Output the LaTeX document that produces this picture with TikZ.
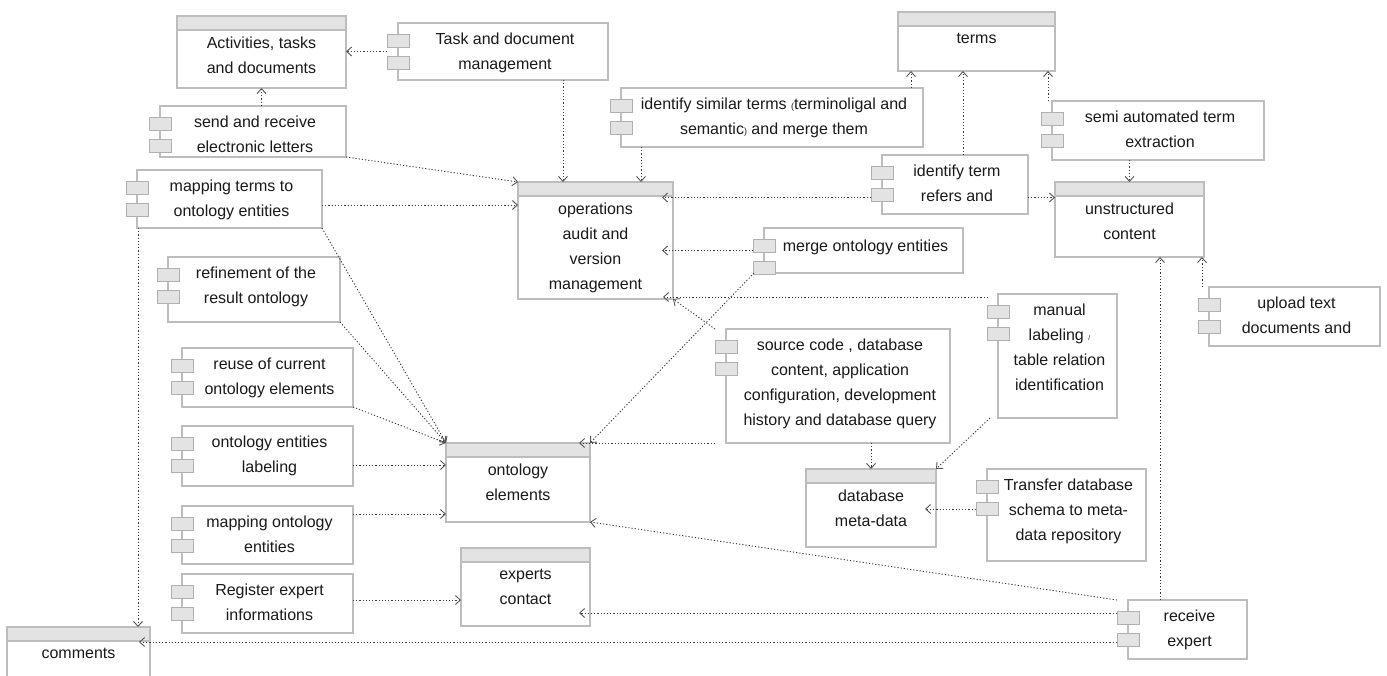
\documentclass[tikz,border=0pt]{standalone}
\usepackage{fontspec}
\setmainfont{Liberation Sans}
\usetikzlibrary{arrows.meta,calc}
\definecolor{bord}{HTML}{BDBDBD}
\definecolor{hdr}{HTML}{E3E3E3}
\definecolor{tabb}{HTML}{B0B0B0}
\definecolor{lnc}{HTML}{3A3A3A}
\definecolor{arrc}{HTML}{555555}
\definecolor{txtc}{HTML}{1A1A1A}
\tikzset{
 box/.style={draw=bord, line width=1.2pt, fill=white, inner sep=0, outer sep=0, anchor=north west},
 tabbox/.style={draw=tabb, line width=1pt, fill=hdr, inner sep=0, outer sep=0, minimum width=22pt, minimum height=13.5pt},
 hdrbox/.style={draw=bord, line width=1.2pt, fill=hdr, inner sep=0, outer sep=0, anchor=north west, minimum height=14pt},
 txt/.style={anchor=north, align=center, inner sep=0, text=txtc, font=\fontsize{16}{25}\selectfont, execute at begin node=\strut},
 dep/.style={draw=lnc, line width=0.9pt, dash pattern=on 1.2pt off 2pt, -{Straight Barb[length=5pt,width=9pt,line width=0.9pt,color=arrc]}},
}
% #7 = vertical shift of the text
\newcommand\classbox[7][-20.5pt]{%
  \node[box, minimum width={#5-#3}, minimum height={#6-#4}] (#2) at (#3,#4) {};
  \node[hdrbox, minimum width={#5-#3}] (#2h) at (#3,#4) {};
  \node[txt] (#2x) at ([yshift=#1]#2.north) {#7};
}
\newcommand\compbox[7][-10pt]{%
  \node[box, minimum width={#5-#3}, minimum height={#6-#4}] (#2) at (#3,#4) {};
  \node[tabbox] (#2a) at ([yshift=-17.75pt]#2.north west) {};
  \node[tabbox] (#2b) at ([yshift=-39.75pt]#2.north west) {};
  \node[txt] (#2x) at ([xshift=2pt,yshift=#1]#2.north) {#7};
}
\begin{document}
\begin{tikzpicture}[x=1pt,y=-1pt]
\useasboundingbox (0,0) rectangle (1387,675);
\fill[white] (0,0) rectangle (1387,675);
% class boxes
\classbox{act}{177}{16}{346}{88}{Activities, tasks\\and documents}
\classbox[-14pt]{terms}{898}{12}{1055}{71}{terms}
\classbox{ops}{518}{182}{673}{299}{operations\\audit and\\version\\management}
\classbox{unst}{1055}{182}{1204}{257}{unstructured\\content}
\classbox{onto}{446}{443}{590}{522}{ontology\\elements}
\classbox{exp}{461}{548}{590}{626}{experts\\contact}
\classbox{db}{806}{469}{936}{547}{database\\meta-data}
\classbox[-14pt]{comm}{7}{627}{150}{690}{comments}
% component boxes
\compbox{task}{398}{23}{608}{80}{Task and document\\management}
\compbox{send}{160}{106}{346}{157}{send and receive\\electronic letters}
\compbox{mapt}{137}{170}{322}{228}{mapping terms to\\ontology entities}
\compbox{sim}{621}{88}{923}{147}{identify similar terms {\small(}terminoligal and\\semantic{\small)} and merge them}
\compbox{idt}{882}{155}{1028}{214}{identify term\\refers and}
\compbox{semi}{1052}{101}{1264}{160}{semi automated term\\extraction}
\compbox{upl}{1209}{287}{1380}{346}{upload text\\documents and}
\compbox[-5.5pt]{merge}{764}{228}{963}{273}{merge ontology entities}
\compbox{refi}{168}{257}{340}{322}{refinement of the\\result ontology}
\compbox{reuse}{182}{348}{353}{407}{reuse of current\\ontology elements}
\compbox{lab}{182}{426}{353}{486}{ontology entities\\labeling}
\compbox{mapo}{182}{506}{353}{564}{mapping ontology\\entities}
\compbox{reg}{182}{574}{353}{633}{Register expert\\informations}
\compbox{src}{726}{329}{950}{443}{source code , database\\content, application\\configuration, development\\history and database query}
\compbox{man}{998}{294}{1117}{418}{manual\\labeling {\scriptsize /}\\table relation\\identification}
\compbox{trans}{987}{469}{1146}{561}{Transfer database\\schema to meta-\\data repository}
\compbox{recv}{1128}{600}{1247}{659}{receive\\expert}
% connectors
\draw[dep] ([xshift=-11pt]task.west) -- (task.west -| act.east);
\draw[dep] (act.south |- send.north) -- (act.south);
\draw[dep] (send.south east) -- (ops.north west);
\draw[dep] ([yshift=-6pt]mapt.east) -- ([yshift=-6pt]mapt.east -| ops.west);
\draw[dep] ([xshift=60pt]task.south) -- ([xshift=60pt]task.south |- ops.north);
\draw[dep] ([xshift=-131pt]sim.south) -- ([xshift=-131pt]sim.south |- ops.north);
\draw[dep] ([xshift=139pt]sim.north) -- ([xshift=139pt]sim.north |- terms.south);
\draw[dep] ([xshift=8pt]idt.north) -- ([xshift=8pt]idt.north |- terms.south);
\draw[dep] ([xshift=-4pt]semi.north west) -- ([xshift=-4pt]semi.north west |- terms.south);
\draw[dep] ([xshift=-11pt,yshift=-13pt]idt.west) -- ([xshift=-11pt,yshift=-13pt]idt.west -| ops.east);
\draw[dep] ([yshift=-13pt]idt.east) -- ([yshift=-13pt]idt.east -| unst.west);
\draw[dep] (unst.north |- semi.south) -- (unst.north);
\draw[dep] ([xshift=-7pt]upl.north west) -- ([xshift=-7pt]upl.north west |- unst.south);
\draw[dep] ([xshift=32pt]recv.north west) -- ([xshift=32pt]recv.north west |- unst.south);
\draw[dep] ([xshift=-11pt]merge.west) -- ([xshift=-11pt]merge.west -| ops.east);
\draw[dep] ([xshift=-10pt]merge.south west) -- (onto.north east);
\draw[dep] ([xshift=-10pt,yshift=-3pt]man.north west) -- ([xshift=-10pt,yshift=-3pt]man.north west -| ops.east);
\draw[dep] ([xshift=-11pt]src.north west) -- (ops.south east);
\draw[dep] ([xshift=-11pt]src.south west) -- ([xshift=-11pt]src.south west -| onto.east);
\draw[dep] (db.north |- src.south) -- (db.north);
\draw[dep] ([xshift=-8pt]man.south west) -- (db.north east);
\draw[dep] ([xshift=-11pt,yshift=6pt]trans.west) -- ([xshift=-11pt,yshift=6pt]trans.west -| db.east);
\draw[dep] ([xshift=-11pt]recv.north west) -- (onto.south east);
\draw[dep] ([xshift=-11pt,yshift=-13pt]recv.north west) -- ([xshift=-11pt,yshift=-13pt]recv.north west -| exp.east);
\draw[dep] ([xshift=-11pt,yshift=-42pt]recv.north west) -- ([xshift=-11pt,yshift=-42pt]recv.north west -| comm.east);
\draw[dep] ([xshift=1pt]mapt.south west) -- ([xshift=1pt]mapt.south west |- comm.north);
\draw[dep] (mapt.south east) -- (onto.north west);
\draw[dep] (refi.south east) -- (onto.north west);
\draw[dep] (reuse.south east) -- (onto.north west);
\draw[dep] ([yshift=-9pt]lab.east) -- ([yshift=-9pt]lab.east -| onto.west);
\draw[dep] ([yshift=21pt]mapo.east) -- ([yshift=21pt]mapo.east -| onto.west);
\draw[dep] ([yshift=3.5pt]reg.east) -- ([yshift=3.5pt]reg.east -| exp.west);
\end{tikzpicture}
\end{document}
